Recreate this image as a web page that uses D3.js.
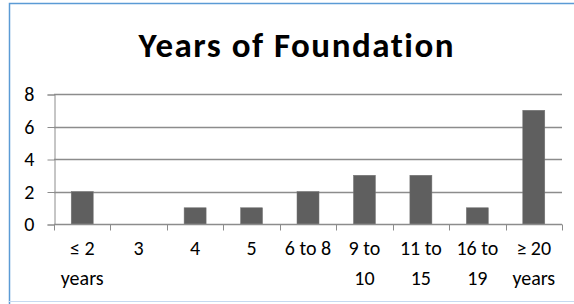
<!DOCTYPE html>
<html>
<head>
<meta charset="utf-8">
<script src="https://cdn.jsdelivr.net/npm/d3@7"></script>
<style>
  body { margin: 0; background: #fff; }
  svg text { font-family: Calibri, Carlito, Lato, sans-serif; fill: #000; font-variant-ligatures: none; }
</style>
</head>
<body>
<div id="chart"></div>
<script>
var categories = [['\u2264 2', 'years'], ['3'], ['4'], ['5'], ['6 to 8'], ['9 to', '10'], ['11 to', '15'], ['16 to', '19'], ['\u2265 20', 'years']];
var counts = [2, 0, 1, 1, 2, 3, 3, 1, 7];
var yTicks = [0, 2, 4, 6, 8];

var svg = d3.select('#chart')
            .append('svg')
            .attr('width', 574)
            .attr('height', 304);

// chart frame
svg.append('path')
   .attr('d', 'M9.5,304 V3.5 H574')
   .attr('fill', 'none')
   .attr('stroke', '#5b9bd5')
   .attr('stroke-width', 1.5);
svg.append('line')
   .attr('x1', 9).attr('x2', 574)
   .attr('y1', 301.5).attr('y2', 301.5)
   .attr('stroke', '#c6d9f0');

svg.append('text')
   .attr('x', 296)
   .attr('y', 57)
   .attr('text-anchor', 'middle')
   .attr('textLength', 315)
   .attr('lengthAdjust', 'spacing')
   .style('font-size', '35px')
   .style('font-weight', 'bold')
   .text('Years of Foundation');

var x = d3.scaleBand()
          .domain(d3.range(categories.length))
          .range([54, 562]);

var y = d3.scaleLinear()
          .domain([0, 8])
          .range([224, 94]);

svg.append('g')
   .selectAll('line')
   .data(yTicks.filter(d => d > 0))
   .enter()
   .append('line')
   .attr('x1', 54)
   .attr('x2', 562)
   .attr('y1', d => Math.round(y(d)) + 0.5)
   .attr('y2', d => Math.round(y(d)) + 0.5)
   .attr('stroke', '#8c8c8c')
   .attr('stroke-width', 1.3);

var barW = x.bandwidth() * 0.39;

svg.selectAll('.bar')
   .data(counts)
   .enter()
   .append('rect')
   .attr('class', 'bar')
   .attr('x', (d, i) => x(i) + (x.bandwidth() - barW) / 2)
   .attr('y', d => y(d))
   .attr('width', barW)
   .attr('height', d => y(0) - y(d))
   .attr('fill', '#5f5f5f')
   .attr('stroke', '#777')
   .attr('stroke-width', 0.5);

var yAxis = svg.append('g')
   .attr('transform', 'translate(54.5,0.5)')
   .call(d3.axisLeft(y).tickValues(yTicks).tickSize(7).tickPadding(13));
yAxis.select('.domain').attr('stroke', '#8c8c8c');
yAxis.selectAll('.tick line').attr('stroke', '#8c8c8c');
yAxis.selectAll('.tick text').style('font-size', '20px');

var xAxis = svg.append('g')
   .attr('transform', 'translate(0,' + (Math.round(y(0)) + 0.5) + ')');
xAxis.append('line')
     .attr('x1', 54).attr('x2', 562)
     .attr('stroke', '#8c8c8c')
     .attr('stroke-width', 1.3);
xAxis.selectAll('.tk')
     .data(d3.range(categories.length + 1))
     .enter()
     .append('line')
     .attr('class', 'tk')
     .attr('x1', i => Math.round(54 + i * x.step()) + 0.5)
     .attr('x2', i => Math.round(54 + i * x.step()) + 0.5)
     .attr('y1', 0)
     .attr('y2', 6)
     .attr('stroke', '#8c8c8c');

var labels = xAxis.selectAll('.lbl')
     .data(categories)
     .enter()
     .append('text')
     .attr('class', 'lbl')
     .attr('text-anchor', 'middle')
     .style('font-size', '20px');
labels.selectAll('tspan')
      .data((d, i) => d.map(t => ({t: t, i: i})))
      .enter()
      .append('tspan')
      .attr('x', d => x(d.i) + x.bandwidth() / 2)
      .attr('y', (d, j) => 30 + j * 30)
      .text(d => d.t);
</script>
</body>
</html>
